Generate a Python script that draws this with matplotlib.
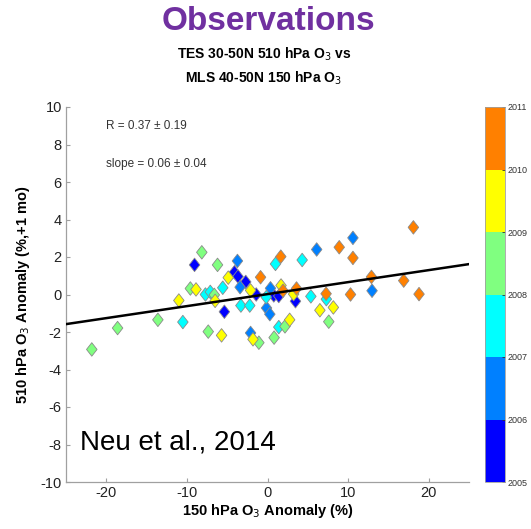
import numpy as np
import matplotlib
matplotlib.use("Agg")
import matplotlib.pyplot as plt
from matplotlib.colors import ListedColormap, BoundaryNorm
from matplotlib.path import Path

plt.rcParams["font.family"] = ["Liberation Sans", "DejaVu Sans"]
plt.rcParams["axes.unicode_minus"] = False

# 150 hPa (MLS) and 510 hPa (TES) ozone anomalies, grouped by year
x_2005 = [-9.05, -4.1, -3.66, -2.7, -1.4, -5.35, 0.78, 1.4, 3.47]
y_2005 = [1.58, 1.19, 0.96, 0.67, 0.0, -0.92, -0.05, -0.08, -0.36]

x_2006 = [10.6, 6.1, -3.73, -3.4, 0.37, 12.97, -0.12, 0.29, -2.1]
y_2006 = [3.02, 2.4, 1.79, 0.39, 0.33, 0.2, -0.72, -1.05, -2.05]

x_2007 = [4.3, 0.99, -5.55, -7.7, -7.1, -3.3, -2.2, -0.16, 5.38, 7.3, 1.4, -10.5]
y_2007 = [1.84, 1.63, 0.36, 0.0, 0.14, -0.59, -0.59, -0.14, -0.1, -0.25, -1.74, -1.47]

x_2008 = [-8.15, -6.2, -9.57, -6.6, -21.8, -18.6, -13.6, -7.35, -1.07, 0.82, 2.17, 7.6]
y_2008 = [2.25, 1.58, 0.32, -0.02, -2.93, -1.79, -1.35, -1.98, -2.57, -2.3, -1.7, -1.45]

x_2009 = [-4.87, -8.87, -2.1, 1.68, 3.24, -6.5, -11.0, -5.7, -1.8, 2.75, 6.5, 8.17]
y_2009 = [0.9, 0.27, 0.22, 0.48, 0.02, -0.34, -0.32, -2.18, -2.39, -1.35, -0.84, -0.69]

x_2010 = [18.1, 8.9, 10.6, 1.65, -0.86, 12.9, 16.9, 18.8, 7.27, 10.3, 1.93, 3.6]
y_2010 = [3.58, 2.52, 1.95, 2.02, 0.92, 0.94, 0.74, 0.02, 0.04, 0.0, 0.2, 0.32]

years = [2005, 2006, 2007, 2008, 2009, 2010]
xs = [x_2005, x_2006, x_2007, x_2008, x_2009, x_2010]
ys = [y_2005, y_2006, y_2007, y_2008, y_2009, y_2010]

# Linear fit shown on the plot
fit_slope = 0.064
fit_intercept = 0.02
r_text = "R = 0.37 \u00b1 0.19"
slope_text = "slope = 0.06 \u00b1 0.04"

year_colors = ["#0000ff", "#0080ff", "#00ffff", "#80ff80", "#ffff00", "#ff8000"]
cmap = ListedColormap(year_colors)
bounds = np.arange(2005, 2012)
norm = BoundaryNorm(bounds, cmap.N)

# Diamond marker, a little taller than wide
diamond = Path([(0, 1), (0.78, 0), (0, -1), (-0.78, 0), (0, 1)],
               [Path.MOVETO, Path.LINETO, Path.LINETO, Path.LINETO, Path.CLOSEPOLY])

fig = plt.figure(figsize=(5.31, 5.29), dpi=100)
ax = fig.add_axes([66 / 531, 1 - 482 / 529, 403 / 531, 375 / 529])
cax = fig.add_axes([485 / 531, 1 - 482 / 529, 20 / 531, 375 / 529])

for yr, xv, yv in zip(years, xs, ys):
    ax.scatter(xv, yv, c=[yr + 0.5] * len(xv), cmap=cmap, norm=norm,
               marker=diamond, s=95, edgecolors="#8a8a8a", linewidths=0.6,
               zorder=3)

xl = np.array([-25, 25])
ax.plot(xl, fit_slope * xl + fit_intercept, color="black", lw=1.8, zorder=4)

ax.set_xlim(-25, 25)
ax.set_ylim(-10, 10)
ax.set_xticks([-20, -10, 0, 10, 20])
ax.set_yticks(np.arange(-10, 11, 2))
for s in ["top", "right"]:
    ax.spines[s].set_visible(False)
for s in ["left", "bottom"]:
    ax.spines[s].set_color("#a0a0a0")
    ax.spines[s].set_linewidth(0.9)
ax.tick_params(direction="in", length=3, width=0.8, color="#a0a0a0",
               labelsize=10.5, labelcolor="#222222", pad=3)

ax.set_xlabel("150 hPa O$_3$ Anomaly (%)", fontsize=10.5, fontweight="bold",
              labelpad=1)
ax.set_ylabel("510 hPa O$_3$ Anomaly (%,+1 mo)", fontsize=10.5,
              fontweight="bold", labelpad=6)

ax.text(-20, 9.0, r_text, fontsize=8.5, color="#333333", va="center")
ax.text(-20, 6.95, slope_text, fontsize=8.5, color="#333333", va="center")
ax.text(-23.3, -7.9, "Neu et al., 2014", fontsize=20, color="black",
        va="center")

# Year colour bar
cb = fig.colorbar(plt.cm.ScalarMappable(norm=norm, cmap=cmap), cax=cax,
                  ticks=bounds)
cb.ax.set_yticklabels([str(b) for b in bounds])
cb.ax.tick_params(labelsize=6.5, labelcolor="#333333", length=2, width=0.6,
                  color="#333333", direction="in", pad=2)
cb.outline.set_edgecolor("#a0a0a0")
cb.outline.set_linewidth(0.6)

fig.text(0.506, 1 - 21 / 529, "Observations", ha="center", va="center",
         fontsize=24, fontweight="bold", color="#7030a0")
fig.text(0.497, 1 - 54 / 529, "TES 30-50N 510 hPa O$_3$ vs", ha="center",
         va="center", fontsize=10, fontweight="bold")
fig.text(0.497, 1 - 78 / 529, "MLS 40-50N 150 hPa O$_3$", ha="center",
         va="center", fontsize=10, fontweight="bold")

fig.savefig("out.png", dpi=100)
